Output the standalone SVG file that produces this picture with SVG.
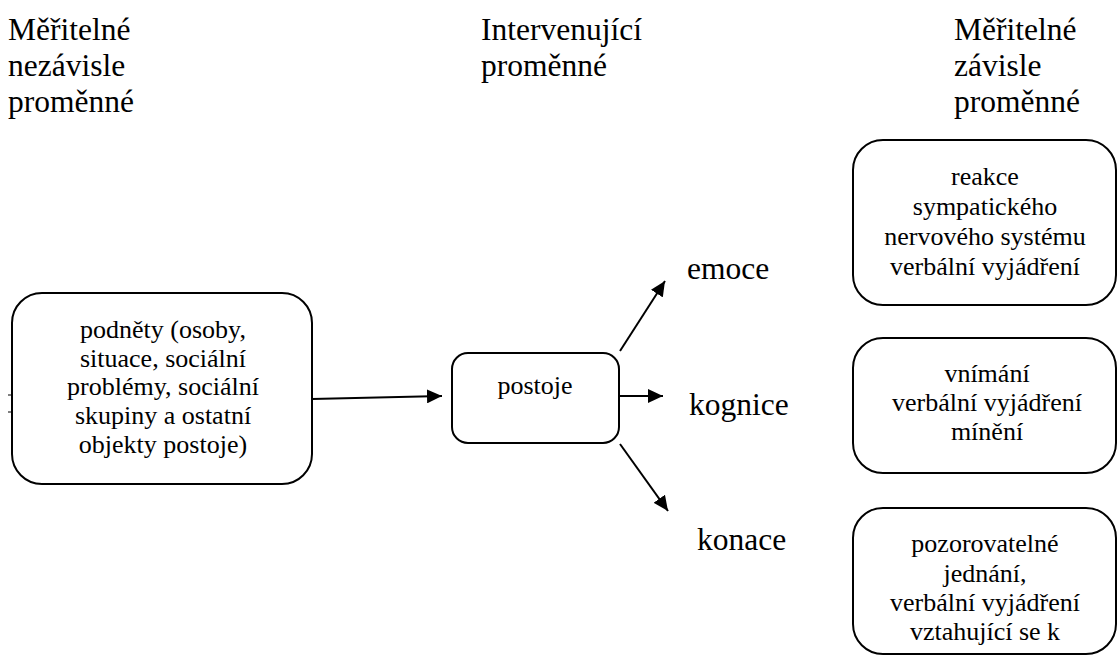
<svg xmlns="http://www.w3.org/2000/svg" width="1118" height="657" viewBox="0 0 1118 657">
<defs>
<style>
.t{font-family:"Liberation Serif","Times New Roman",serif;fill:#000}
.h{font-size:31.5px}
.b{font-size:26px;text-anchor:middle}
.box{fill:#fff;stroke:#000;stroke-width:2}
.c{stroke:#000;stroke-width:2;fill:none}
</style>
<marker id="ah" markerUnits="userSpaceOnUse" markerWidth="16" markerHeight="14" refX="15" refY="7" orient="auto">
<path d="M0,0 L15,7 L0,14 Z" fill="#000"/>
</marker>
</defs>
<rect width="1118" height="657" fill="#fff"/>
<g id="headers">
<text class="t h"><tspan x="8" y="40">Měřitelné</tspan><tspan x="8" y="76">nezávisle</tspan><tspan x="8" y="112">proměnné</tspan></text>
<text class="t h"><tspan x="481" y="40">Intervenující</tspan><tspan x="481" y="76">proměnné</tspan></text>
<text class="t h"><tspan x="954" y="40">Měřitelné</tspan><tspan x="954" y="76">závisle</tspan><tspan x="954" y="112">proměnné</tspan></text>
</g>
<g id="node-podnety">
<rect class="box" x="12" y="293" width="300" height="191" rx="30"/>
<line x1="8" y1="395" x2="12" y2="395" stroke="#000" stroke-width="1"/>
<line x1="8" y1="412" x2="12" y2="412" stroke="#000" stroke-width="1"/>
<text class="t b"><tspan x="163" y="338">podněty (osoby,</tspan><tspan x="163" y="367">situace, sociální</tspan><tspan x="163" y="395">problémy, sociální</tspan><tspan x="163" y="424">skupiny a ostatní</tspan><tspan x="163" y="453">objekty postoje)</tspan></text>
</g>
<g id="node-postoje">
<rect class="box" x="452" y="353" width="167" height="90" rx="16"/>
<text class="t b"><tspan x="535" y="394">postoje</tspan></text>
</g>
<g id="node-emoce"><text class="t h"><tspan x="687" y="279">emoce</tspan></text></g>
<g id="node-kognice"><text class="t h"><tspan x="689" y="415">kognice</tspan></text></g>
<g id="node-konace"><text class="t h"><tspan x="697" y="550">konace</tspan></text></g>
<g id="node-reakce">
<rect class="box" x="853" y="140" width="263" height="165" rx="30"/>
<text class="t b"><tspan x="985" y="185">reakce</tspan><tspan x="985" y="215">sympatického</tspan><tspan x="985" y="245">nervového systému</tspan><tspan x="985" y="275">verbální vyjádření</tspan></text>
</g>
<g id="node-vnimani">
<rect class="box" x="853" y="338" width="263" height="135" rx="30"/>
<text class="t b"><tspan x="987" y="382">vnímání</tspan><tspan x="987" y="411">verbální vyjádření</tspan><tspan x="987" y="440">mínění</tspan></text>
</g>
<g id="node-jednani">
<rect class="box" x="853" y="508" width="263" height="146" rx="30"/>
<text class="t b"><tspan x="985" y="552">pozorovatelné</tspan><tspan x="985" y="582">jednání,</tspan><tspan x="985" y="611">verbální vyjádření</tspan><tspan x="985" y="640">vztahující se k</tspan></text>
</g>
<g id="connectors">
<line class="c" x1="312" y1="399" x2="442" y2="396" marker-end="url(#ah)"/>
<line class="c" x1="620" y1="351" x2="665" y2="281" marker-end="url(#ah)"/>
<line class="c" x1="620" y1="396" x2="663" y2="396" marker-end="url(#ah)"/>
<line class="c" x1="620" y1="444" x2="668" y2="511" marker-end="url(#ah)"/>
</g>
</svg>
